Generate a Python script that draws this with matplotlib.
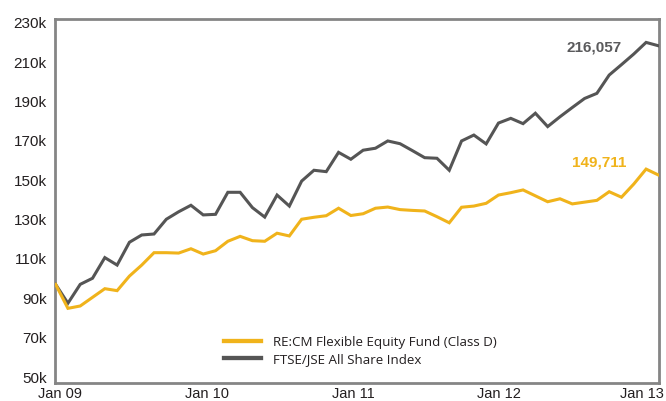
import matplotlib
matplotlib.use("Agg")
import matplotlib.pyplot as plt
from matplotlib.lines import Line2D
import numpy as np

# Monthly values (in thousands), Dec 2008 .. Jan 2013
fund = [97.1, 84.9, 86.1, 90.5, 94.9, 93.9, 101.3, 106.9, 113.2, 113.2,
        113.0, 115.2, 112.5, 114.2, 119.0, 121.5, 119.3, 119.0, 123.1, 121.7,
        130.2, 131.2, 132.0, 135.8, 132.1, 133.0, 135.8, 136.4, 135.1, 134.7,
        134.4, 131.5, 128.4, 136.3, 136.9, 138.3, 142.5, 143.7, 145.1, 142.1,
        139.1, 140.6, 138.0, 138.9, 139.8, 144.2, 141.4, 148.1, 155.7, 152.7]
index = [97.1, 87.5, 97.1, 100.2, 110.7, 106.9, 118.5, 122.2, 122.7, 130.2,
         134.0, 137.3, 132.4, 132.7, 143.9, 143.9, 136.1, 131.3, 142.5, 136.9,
         149.6, 155.1, 154.4, 164.2, 160.7, 165.3, 166.3, 170.0, 168.6, 165.1,
         161.5, 161.2, 155.1, 170.0, 173.0, 168.5, 179.1, 181.5, 178.8, 184.1,
         177.3, 182.3, 187.0, 191.6, 194.2, 203.5, 208.8, 214.2, 220.1, 218.4]
series_names = ["RE:CM Flexible Equity Fund (Class D)", "FTSE/JSE All Share Index"]
end_labels = ["149,711", "216,057"]
x_tick_labels = ["Jan 09", "Jan 10", "Jan 11", "Jan 12", "Jan 13"]
x_tick_pos = [0.35, 12.3, 24.17, 36.04, 47.7]
y_ticks = [50, 70, 90, 110, 130, 150, 170, 190, 210, 230]

YELLOW = "#F0B31B"
GRAY = "#555555"
SPINE = "#858585"
TEXT = "#231F20"

fund_v = np.array(fund) * 1000
index_v = np.array(index) * 1000
x = np.arange(len(fund))

fig = plt.figure(figsize=(6.66, 4.01), dpi=100)
ax = fig.add_axes([55 / 666, 1 - 383 / 401, 604 / 666, 364 / 401])

ax.plot(x, index_v, color=GRAY, lw=2.2, solid_joinstyle="miter", zorder=3)
ax.plot(x, fund_v, color=YELLOW, lw=2.2, solid_joinstyle="miter", zorder=4)

ax.set_xlim(-0.05, 49.05)
ax.set_ylim(46950, 232000)
ax.set_yticks([v * 1000 for v in y_ticks])
ax.set_yticklabels([f"{v}k" for v in y_ticks])
ax.set_xticks(x_tick_pos)
ax.set_xticklabels(x_tick_labels)
ax.tick_params(axis="y", length=0, labelsize=11, labelcolor=TEXT,
               labelfontfamily="Liberation Sans", pad=6)
ax.tick_params(axis="x", length=0, labelsize=10.5, labelcolor=TEXT,
               labelfontfamily="Liberation Sans", pad=3)
for s in ax.spines.values():
    s.set_color(SPINE)
    s.set_linewidth(2)

ax.annotate(end_labels[1], xy=(x[-1], index_v[-1]), xytext=(-26.4, -0.9),
            textcoords="offset points", ha="right", va="center",
            fontsize=11, fontweight="bold", color="#5A5A5C",
            family="Liberation Sans")
ax.annotate(end_labels[0], xy=(x[-1], fund_v[-1]), xytext=(-23.3, 8.8),
            textcoords="offset points", ha="right", va="center",
            fontsize=11, fontweight="bold", color=YELLOW,
            family="Liberation Sans")

handles = [Line2D([], [], color=YELLOW, lw=3.1), Line2D([], [], color=GRAY, lw=3.1)]
ax.legend(handles, series_names, loc="upper left", bbox_to_anchor=(0.2798, 0.129),
          frameon=False, borderpad=0, borderaxespad=0, handlelength=2.8,
          handletextpad=0.85, labelspacing=0.3,
          prop={"family": "Open Sans", "size": 9.6}, labelcolor=TEXT)

fig.savefig("out.png", dpi=100)
